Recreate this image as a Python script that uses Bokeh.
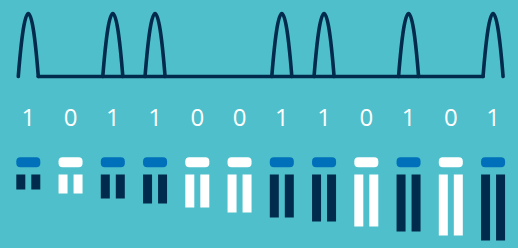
from bokeh.plotting import figure
from bokeh.models import Range1d, ColumnDataSource, GlobalInlineStyleSheet
from bokeh.core.properties import value
from bokeh.embed import file_html
from bokeh.resources import INLINE

# ---- data ----
bits = [1, 0, 1, 1, 0, 0, 1, 1, 0, 1, 0, 1]
bit_labels = [str(b) for b in bits]
bar_heights = [15, 19, 24, 29, 33, 38, 43, 47, 52, 57, 61, 66]

# ---- style ----
BG = "#4fbfcb"
NAVY = "#002b4c"
BLUE = "#0070ba"
WHITE = "#ffffff"

W, H = 518, 248
p = figure(width=W, height=H, output_backend="svg", toolbar_location=None,
           x_range=Range1d(-0.658, 11.602), y_range=Range1d(H, 0),
           x_axis_type=None, y_axis_type=None, min_border=0)
p.outline_line_color = None
p.background_fill_color = BG
p.border_fill_color = BG
p.grid.visible = False
p.stylesheets = [GlobalInlineStyleSheet(
    css=f"html,body{{margin:0;padding:0;background:{BG};overflow:hidden;}}")]

pos = list(range(len(bits)))

# waveform
base_y = 76
peak_y = 13
hw = 0.237
ones = [i for i, b in enumerate(bits) if b == 1]
p.segment(x0=[ones[0] + hw], y0=[base_y], x1=[ones[-1] - hw], y1=[base_y],
          line_color=NAVY, line_width=3.6, line_cap="round")
p.quadratic(x0=[c - hw for c in ones], y0=[base_y] * len(ones),
            x1=[c + hw for c in ones], y1=[base_y] * len(ones),
            cx=ones, cy=[base_y - 2 * (base_y - peak_y)] * len(ones),
            line_color=NAVY, line_width=3.6, line_cap="round")

# digits
p.text(x=pos, y=[116.7] * len(pos), text=bit_labels, text_align="center",
       text_baseline="alphabetic", text_font=value("Open Sans"),
       text_font_size="24px", text_color=WHITE)

# caps
cap_src = ColumnDataSource(dict(
    left=[i - 0.284 for i in pos], right=[i + 0.284 for i in pos],
    top=[156.7] * len(pos), bottom=[166.7] * len(pos),
    color=[BLUE if b else WHITE for b in bits]))
p.quad(left="left", right="right", top="top", bottom="bottom", source=cap_src,
       fill_color="color", line_color=None, border_radius=4)

# bars
bar_top = 174
bar_colors = [NAVY if b else WHITE for b in bits]
for lo, hi in [(-0.284, -0.071), (0.071, 0.284)]:
    src = ColumnDataSource(dict(
        left=[i + lo for i in pos], right=[i + hi for i in pos],
        top=[bar_top] * len(pos), bottom=[bar_top + h for h in bar_heights],
        color=bar_colors))
    p.quad(left="left", right="right", top="top", bottom="bottom", source=src,
           fill_color="color", line_color=None)

open("out.html", "w").write(file_html(p, INLINE))
